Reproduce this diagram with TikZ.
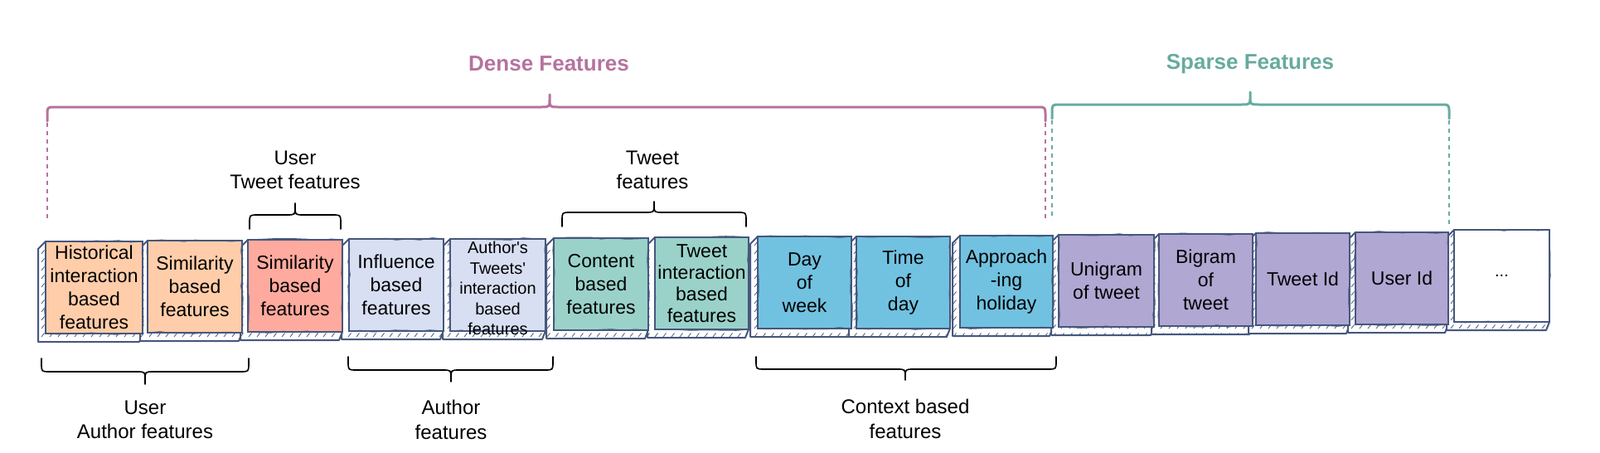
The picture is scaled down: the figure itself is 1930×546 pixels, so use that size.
\documentclass[tikz,border=0pt]{standalone}
\usepackage{fontspec}
\setmainfont{Liberation Sans}
\usetikzlibrary{calc,backgrounds,patterns,decorations.pathmorphing}
\definecolor{stk}{HTML}{46577D}
\definecolor{peach}{HTML}{FFCDA9}
\definecolor{salmon}{HTML}{FFAA9E}
\definecolor{lav}{HTML}{D9DFF2}
\definecolor{tealbox}{HTML}{9AD2CA}
\definecolor{sky}{HTML}{71C2E0}
\definecolor{purp}{HTML}{B0A7D2}
\definecolor{densec}{HTML}{B5739D}
\definecolor{sparsec}{HTML}{67AB9F}
\pgfdeclarepatternformonly{myhatch}{\pgfqpoint{-1pt}{-1pt}}{\pgfqpoint{11pt}{11pt}}{\pgfqpoint{10pt}{10pt}}{%
  \pgfsetlinewidth{0.8pt}\pgfpathmoveto{\pgfqpoint{0pt}{0pt}}\pgfpathlineto{\pgfqpoint{3.5pt}{4.5pt}}\pgfusepath{stroke}}
\begin{document}
\begin{tikzpicture}[x=1pt,y=-1pt,
  fbox/.style={draw=stk, line width=2.6pt, inner sep=0pt, outer sep=0pt, anchor=north west,
    align=center, minimum height=111pt, text=black, font=\fontsize{23}{28}\selectfont,
    postaction={draw=stk, line width=1pt, decorate,
      decoration={random steps, segment length=14pt, amplitude=1.3pt}}},
  lbl/.style={align=center, inner sep=0pt, font=\fontsize{24}{29.5}\selectfont, text=black},
  ttl/.style={inner sep=0pt, font=\bfseries\fontsize{26}{30}\selectfont},
  bbrace/.style={draw=black, line width=1.6pt, line cap=round, line join=round},
  cbrace/.style={line width=3pt, line cap=round, line join=round},
  dline/.style={line width=1.4pt, dash pattern=on 5pt off 5pt}]
\useasboundingbox (0,0) rectangle (1930,546);

% titles
\node[ttl, text=densec] (tdense) at (662,77) {Dense Features};
\node[ttl, text=sparsec] (tsparse) at (1508,77) {Sparse Features};

% big braces
\draw[cbrace, draw=densec] (57,146) -- (57,139) .. controls (57,129) .. (67,129) -- (653,129) .. controls (663,129) .. (663,119) -- (663,114) -- (663,119) .. controls (663,129) .. (673,129) -- (1251,129) .. controls (1261,129) .. (1261,139) -- (1261,146);
\draw[cbrace, draw=sparsec] (1269,143) -- (1269,136) .. controls (1269,126) .. (1279,126) -- (1498,126) .. controls (1508,126) .. (1508,116) -- (1508,111) -- (1508,116) .. controls (1508,126) .. (1518,126) -- (1738,126) .. controls (1748,126) .. (1748,136) -- (1748,143);

% dashed guide lines
\draw[dline, draw=densec] (57,148) -- (57,266);
\draw[dline, draw=densec] (1261,148) -- (1261,265);
\draw[dline, draw=sparsec] (1269,145) -- (1269,265);
\draw[dline, draw=sparsec] (1748,145) -- (1748,274);

% upper small braces and labels
\node[lbl] (luser) at (356,205) {User\\Tweet features};
\draw[bbrace] (301,276) -- (301,269) .. controls (301,259) .. (311,259) -- (346,259) .. controls (356,259) .. (356,249) -- (356,245) -- (356,249) .. controls (356,259) .. (366,259) -- (401,259) .. controls (411,259) .. (411,269) -- (411,276);
\node[lbl] (ltweet) at (787,205) {Tweet\\features};
\draw[bbrace] (678,273) -- (678,266) .. controls (678,256) .. (688,256) -- (779,256) .. controls (789,256) .. (789,246) -- (789,243) -- (789,246) .. controls (789,256) .. (799,256) -- (890,256) .. controls (900,256) .. (900,266) -- (900,273);

% boxes
\node[fbox, fill=peach,   minimum width=117pt] (b1)  at (55,291)   {Historical\\interaction\\based\\features};
\node[fbox, fill=peach,   minimum width=114pt] (b2)  at (178,290)  {Similarity\\based\\features};
\node[fbox, fill=salmon,  minimum width=114pt] (b3)  at (299,289)  {Similarity\\based\\features};
\node[fbox, fill=lav,     minimum width=114pt] (b4)  at (421,288)  {Influence\\based\\features};
\node[fbox, fill=lav,     minimum width=115pt] (b5)  at (543,288)  {};
\node[fbox, fill=tealbox, minimum width=114pt] (b6)  at (668,287)  {Content\\based\\features};
\node[fbox, fill=tealbox, minimum width=113pt, font=\fontsize{23}{26}\selectfont] (b7)  at (790,286)  {Tweet\\interaction\\based\\features};
\node[fbox, fill=sky,     minimum width=113pt] (b8)  at (914,285)  {Day\\of\\week};
\node[fbox, fill=sky,     minimum width=113pt] (b9)  at (1033,285) {Time\\of\\day};
\node[fbox, fill=sky,     minimum width=112pt] (b10) at (1158,284) {Approach\\-ing\\holiday};
\node[fbox, fill=purp,    minimum width=115pt] (b11) at (1277,283) {Unigram\\of tweet};
\node[fbox, fill=purp,    minimum width=113pt] (b12) at (1398,282) {Bigram\\of\\tweet};
\node[fbox, fill=purp,    minimum width=113pt] (b13) at (1515,281) {Tweet Id};
\node[fbox, fill=purp,    minimum width=112pt] (b14) at (1635,280) {User Id};
\node[fbox, fill=white,   minimum width=115pt, font=\fontsize{20}{24}\selectfont] (b15) at (1754,277) {...};
\node[align=center, inner sep=0pt, text=black, font=\fontsize{20}{24.5}\selectfont] (t5) at ($(b5.center)+(0,4)$) {Author\textquotesingle s\\Tweets\textquotesingle\\interaction\\based\\features};

% 3D extrusion of the boxes
\begin{pgfonlayer}{background}
\foreach \b in {b1,b2,b3,b4,b5,b6,b7,b8,b9,b10,b11,b12,b13,b14,b15}{
  \path[fill=white] (\b.north west) -- ++(-9,9) -- ($(\b.south west)+(-9,10)$) -- ($(\b.south east)+(-4,10)$) -- (\b.south east) -- (\b.north east) -- cycle;
  \path[pattern=myhatch, pattern color=stk] (\b.north west) -- ++(-9,9) -- ($(\b.south west)+(-9,10)$) -- ($(\b.south east)+(-4,10)$) -- (\b.south east) -- (\b.north east) -- cycle;
  \draw[stk, line width=2pt, line join=round] (\b.north west) -- ++(-9,9) -- ($(\b.south west)+(-9,10)$) -- ($(\b.south east)+(-4,10)$) -- (\b.south east);
}
\end{pgfonlayer}

% lower braces and labels
\draw[bbrace] (50,432) -- (50,438) .. controls (50,448) .. (60,448) -- (165,448) .. controls (175,448) .. (175,458) -- (175,463) -- (175,458) .. controls (175,448) .. (185,448) -- (290,448) .. controls (300,448) .. (300,438) -- (300,432);
\node[lbl] (luauth) at (175,506) {User\\Author features};
\draw[bbrace] (420,430) -- (420,436) .. controls (420,446) .. (430,446) -- (534,446) .. controls (544,446) .. (544,456) -- (544,460) -- (544,456) .. controls (544,446) .. (554,446) -- (657,446) .. controls (667,446) .. (667,436) -- (667,430);
\node[lbl] (lauth) at (544,506) {Author\\features};
\draw[bbrace] (912,430) -- (912,435) .. controls (912,445) .. (922,445) -- (1082,445) .. controls (1092,445) .. (1092,455) -- (1092,458) -- (1092,455) .. controls (1092,445) .. (1102,445) -- (1264,445) .. controls (1274,445) .. (1274,435) -- (1274,430);
\node[lbl] (lctx) at (1092,505) {Context based\\features};
\end{tikzpicture}
\end{document}
